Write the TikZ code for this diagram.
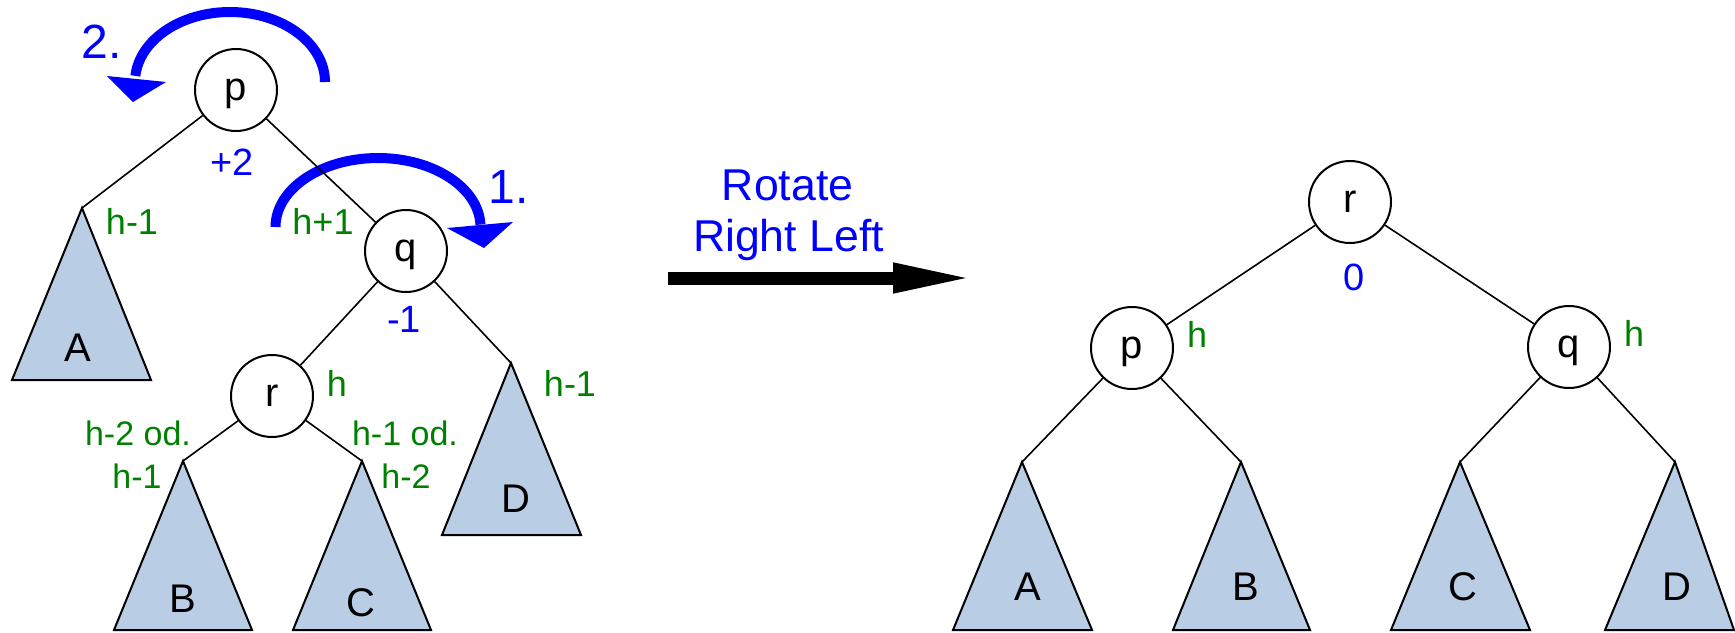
\documentclass[tikz,border=0pt]{standalone}
\usepackage{fontspec}
\setmainfont{Liberation Sans}
\usetikzlibrary{arrows.meta}
\definecolor{treefill}{RGB}{185,205,228}
\definecolor{lblgreen}{RGB}{0,128,0}
\definecolor{lblblue}{RGB}{0,0,255}
\tikzset{
  treenode/.style={circle, draw, line width=1pt, fill=white, minimum size=41pt, inner sep=0pt, text depth=0pt, font=\fontsize{20}{24}\selectfont},
  subtree/.style={draw, line width=1pt, fill=treefill, line join=miter},
  subname/.style={font=\fontsize{20}{24}\selectfont, inner sep=0pt},
  treeedge/.style={line width=0.8pt},
  hlabel/.style={text=lblgreen, font=\fontsize{18}{22}\selectfont, inner sep=0pt},
  hsmall/.style={text=lblgreen, font=\fontsize{17}{20}\selectfont, inner sep=0pt},
  balance/.style={text=lblblue, font=\fontsize{19}{22}\selectfont, inner sep=0pt},
  steplabel/.style={text=lblblue, font=\fontsize{24}{28}\selectfont, inner sep=0pt},
  rotarc/.style={draw=lblblue, line width=5pt},
  rothead/.style={fill=lblblue},
  rottext/.style={text=lblblue, font=\fontsize{22.3}{26}\selectfont, inner sep=0pt, anchor=base},
}
\begin{document}
\begin{tikzpicture}[x=0.5pt,y=-0.5pt]
\useasboundingbox (0,0) rectangle (1735,632);

% ---------- left tree: subtrees ----------
\coordinate (LA) at (82,208);
\coordinate (LB) at (183,461);
\coordinate (LC) at (362,461);
\coordinate (LD) at (511,363);
\path[subtree] (LA) -- (151,380) -- (12,380) -- cycle;
\path[subtree] (LB) -- (252,630) -- (114,630) -- cycle;
\path[subtree] (LC) -- (431,630) -- (293,630) -- cycle;
\path[subtree] (LD) -- (581,535) -- (442,535) -- cycle;
\node[subname] (LAl) at (77.5,348) {A};
\node[subname] (LBl) at (183,599) {B};
\node[subname] (LCl) at (361,603) {C};
\node[subname] (LDl) at (516,499) {D};

% ---------- rotation arcs ----------
\path[rotarc] (325,82) arc[start angle=0, end angle=175, x radius=47.5pt, y radius=35pt];
\fill[rothead] (107,76) -- (166,82) -- (133,102) -- cycle;
\path[rotarc] (275.5,227) arc[start angle=180, end angle=2, x radius=51.25pt, y radius=34.5pt];
\fill[rothead] (447,228) -- (513,222) -- (484,248) -- cycle;

% ---------- left tree: nodes ----------
\node[treenode] (Lp) at (236,90) {p};
\node[treenode] (Lq) at (406,251) {q};
\node[treenode] (Lr) at (272,396) {r};

\draw[treeedge] (Lp) -- (LA);
\draw[treeedge] (Lp) -- (Lq);
\draw[treeedge] (Lq) -- (Lr);
\draw[treeedge] (Lq) -- (LD);
\draw[treeedge] (Lr) -- (LB);
\draw[treeedge] (Lr) -- (LC);

\node[steplabel] (two) at (102,42) {2.};
\node[steplabel] (one) at (509,187) {1.};
\node[balance] (bp) at (232,162) {+2};
\node[balance] (bq) at (404,319) {-1};
\node[hlabel] (hA) at (132,221) {h-1};
\node[hlabel] (hq) at (323,221) {h+1};
\node[hlabel] (hr) at (337,383) {h};
\node[hlabel] (hD) at (570,383) {h-1};
\node[hsmall] (hB1) at (138,433) {h-2 od.};
\node[hsmall] (hB2) at (137,476) {h-1};
\node[hsmall] (hC1) at (405,433) {h-1 od.};
\node[hsmall] (hC2) at (406,476) {h-2};

% ---------- middle arrow ----------
\node[rottext] (rot1) at (787.5,200) {Rotate};
\node[rottext] (rot2) at (788.5,251) {Right Left};
\coordinate (arrS) at (668,278);
\coordinate (arrE) at (975,278);
\draw[line width=6.5pt, -{Triangle[length=41pt,width=13.5pt]}] (arrS) -- (arrE);

% ---------- right tree ----------
\coordinate (RA) at (1022,462);
\coordinate (RB) at (1241,462);
\coordinate (RC) at (1460,462);
\coordinate (RD) at (1675,462);
\path[subtree] (RA) -- (1092,630) -- (953,630) -- cycle;
\path[subtree] (RB) -- (1310,630) -- (1173,630) -- cycle;
\path[subtree] (RC) -- (1530,630) -- (1391,630) -- cycle;
\path[subtree] (RD) -- (1734,630) -- (1605,630) -- cycle;
\node[subname] (RAl) at (1028,587) {A};
\node[subname] (RBl) at (1246,587) {B};
\node[subname] (RCl) at (1463,587) {C};
\node[subname] (RDl) at (1677,587) {D};

\node[treenode] (Rr) at (1350,202) {r};
\node[treenode] (Rp) at (1132,348) {p};
\node[treenode] (Rq) at (1569,347) {q};

\draw[treeedge] (Rr) -- (Rp);
\draw[treeedge] (Rr) -- (Rq);
\draw[treeedge] (Rp) -- (RA);
\draw[treeedge] (Rp) -- (RB);
\draw[treeedge] (Rq) -- (RC);
\draw[treeedge] (Rq) -- (RD);

\node[balance] (br) at (1354,277) {0};
\node[hlabel] (hRp) at (1197,334) {h};
\node[hlabel] (hRq) at (1634,333) {h};
\end{tikzpicture}
\end{document}
